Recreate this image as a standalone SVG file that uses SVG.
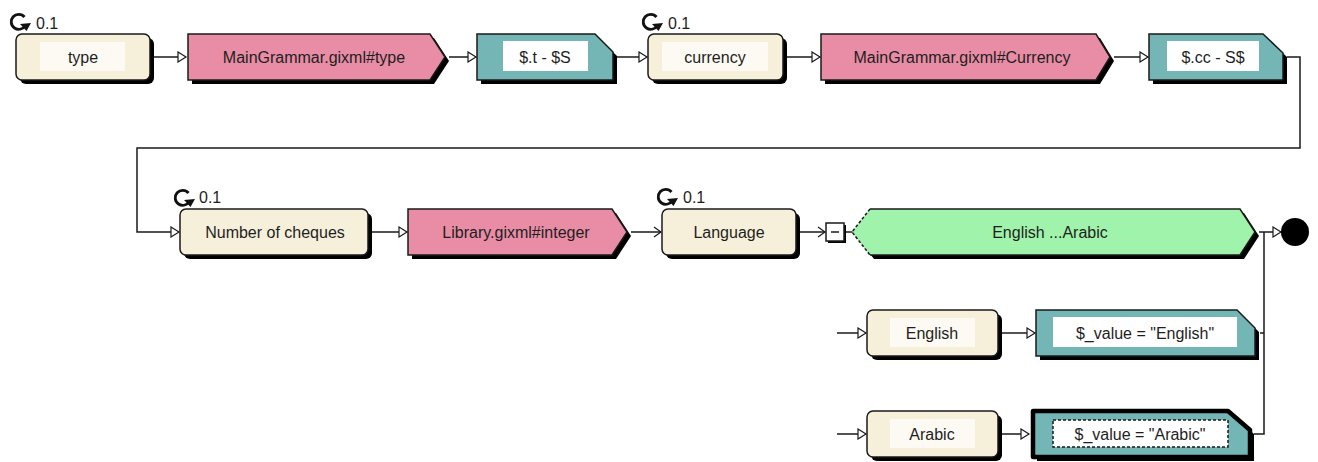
<svg xmlns="http://www.w3.org/2000/svg" xmlns:xlink="http://www.w3.org/1999/xlink" width="1318" height="462" viewBox="0 0 1318 462">
  <style>
    .bg { fill: #ffffff; }
    .shadow { fill: #000000; }
    .cream { fill: #F6F0DB; stroke: #1a1a1a; stroke-width: 1.5; }
    .pink { fill: #E98CA5; stroke: #1a1a1a; stroke-width: 1.5; }
    .teal { fill: #74B6B5; stroke: #1a1a1a; stroke-width: 1.5; }
    .teal-sel { fill: #74B6B5; stroke: #000000; stroke-width: 4.5; stroke-linejoin: round; }
    .green { fill: #A0F3AA; }
    .edge { fill: none; stroke: #1a1a1a; stroke-width: 1.5; }
    .inner { fill: #FCFAF2; }
    .innerw { fill: #FFFFFF; }
    .focus { fill: none; stroke: #1a1a1a; stroke-width: 1.5; stroke-dasharray: 3 2; }
    .lbl { font-family: "Liberation Sans", Arial, sans-serif; font-size: 16px; fill: #1e1e1e; text-anchor: middle; dominant-baseline: central; }
    .card { font-family: "Liberation Sans", Arial, sans-serif; font-size: 16px; fill: #1e1e1e; }
    .wire { fill: none; stroke: #1a1a1a; stroke-width: 1.5; }
  </style>
  <defs>
    <marker id="tri" markerUnits="userSpaceOnUse" markerWidth="12" markerHeight="12" refX="9" refY="6" orient="auto">
      <path d="M1,1 L9,6 L1,11 z" fill="#ffffff" stroke="#1a1a1a" stroke-width="1.2"/>
    </marker>
    <marker id="chev" markerUnits="userSpaceOnUse" markerWidth="12" markerHeight="12" refX="9" refY="6" orient="auto">
      <path d="M2,1 L9,6 L2,11" fill="none" stroke="#1a1a1a" stroke-width="1.2"/>
    </marker>
    <!-- repeat (0..1) loop glyph, centred on its ring -->
    <g id="loop">
      <path d="M5.5,-5 A7.5,7.5 0 1 0 6.5,3" fill="none" stroke="#111" stroke-width="2.8"/>
      <path d="M1,2 L12,1 L7.5,9 z" fill="#111"/>
    </g>
  </defs>

  <rect class="bg" x="0" y="0" width="1318" height="462"/>

  <!-- connectors -->
  <g id="connectors">
    <line class="wire" x1="154" y1="57" x2="186" y2="57" marker-end="url(#tri)"/>
    <line class="wire" x1="449" y1="57" x2="476" y2="57" marker-end="url(#tri)"/>
    <line class="wire" x1="617" y1="57" x2="647" y2="57" marker-end="url(#tri)"/>
    <line class="wire" x1="787" y1="57" x2="820" y2="57" marker-end="url(#tri)"/>
    <line class="wire" x1="1114" y1="57" x2="1148" y2="57" marker-end="url(#tri)"/>
    <polyline class="wire" points="1287,57 1300,57 1300,148 137,148 137,232 179,232" marker-end="url(#tri)"/>
    <line class="wire" x1="372" y1="232" x2="407" y2="232" marker-end="url(#tri)"/>
    <line class="wire" x1="631" y1="232" x2="661" y2="232" marker-end="url(#chev)"/>
    <line class="wire" x1="800" y1="232" x2="825" y2="232" marker-end="url(#chev)"/>
    <line class="wire" x1="846" y1="232" x2="853" y2="232"/>
    <line class="wire" x1="1259" y1="232" x2="1281" y2="232" marker-end="url(#tri)"/>
    <polyline class="wire" points="1264,232 1264,434 1254,434"/>
    <line class="wire" x1="1260" y1="333" x2="1264" y2="333"/>
    <line class="wire" x1="837" y1="333" x2="866" y2="333" marker-end="url(#tri)"/>
    <line class="wire" x1="1002" y1="333" x2="1035" y2="333" marker-end="url(#tri)"/>
    <line class="wire" x1="837" y1="434" x2="866" y2="434" marker-end="url(#tri)"/>
    <line class="wire" x1="1002" y1="434" x2="1029" y2="434" marker-end="url(#tri)"/>
  </g>

  <!-- row 1 -->
  <g id="node-type">
    <rect class="shadow" x="20" y="38" width="134" height="46" rx="6"/>
    <rect class="cream" x="16" y="34" width="134" height="46" rx="6"/>
    <rect class="inner" x="40" y="42" width="85" height="29"/>
    <text class="lbl" x="83" y="57">type</text>
    <use xlink:href="#loop" x="19" y="22"/>
    <text class="card" x="36" y="29">0.1</text>
  </g>
  <g id="node-grammar-type">
    <polygon class="shadow" points="192,38 434,38 449,61 434,84 192,84"/>
    <polygon class="pink" points="188,34 430,34 445,57 430,80 188,80"/>
    <text class="lbl" x="314" y="57">MainGrammar.gixml#type</text>
  </g>
  <g id="node-tag-t">
    <polygon class="shadow" points="481,38 599,38 617,56 617,84 481,84"/>
    <polygon class="teal" points="477,34 595,34 613,52 613,80 477,80"/>
    <rect class="innerw" x="503" y="41" width="85" height="30"/>
    <text class="lbl" x="545" y="57">$.t - $S</text>
  </g>
  <g id="node-currency">
    <rect class="shadow" x="652" y="38" width="135" height="46" rx="6"/>
    <rect class="cream" x="648" y="34" width="135" height="46" rx="6"/>
    <rect class="inner" x="662" y="42" width="106" height="29"/>
    <text class="lbl" x="715" y="57">currency</text>
    <use xlink:href="#loop" x="651" y="22"/>
    <text class="card" x="668" y="29">0.1</text>
  </g>
  <g id="node-grammar-currency">
    <polygon class="shadow" points="825,38 1100,38 1114,61 1100,84 825,84"/>
    <polygon class="pink" points="821,34 1096,34 1110,57 1096,80 821,80"/>
    <text class="lbl" x="962" y="57">MainGrammar.gixml#Currency</text>
  </g>
  <g id="node-tag-cc">
    <polygon class="shadow" points="1153,38 1267,38 1287,57 1287,84 1153,84"/>
    <polygon class="teal" points="1149,34 1263,34 1283,53 1283,80 1149,80"/>
    <rect class="innerw" x="1167" y="41" width="92" height="30"/>
    <text class="lbl" x="1213" y="57">$.cc - S$</text>
  </g>

  <!-- row 2 -->
  <g id="node-cheques">
    <rect class="shadow" x="184" y="213" width="188" height="46" rx="6"/>
    <rect class="cream" x="180" y="209" width="188" height="46" rx="6"/>
    <text class="lbl" x="275" y="232">Number of cheques</text>
    <use xlink:href="#loop" x="183" y="198"/>
    <text class="card" x="199" y="203">0.1</text>
  </g>
  <g id="node-integer">
    <polygon class="shadow" points="412,213 616,213 631,236 616,259 412,259"/>
    <polygon class="pink" points="408,209 612,209 627,232 612,255 408,255"/>
    <text class="lbl" x="516" y="232">Library.gixml#integer</text>
  </g>
  <g id="node-language">
    <rect class="shadow" x="666" y="213" width="134" height="46" rx="6"/>
    <rect class="cream" x="662" y="209" width="134" height="46" rx="6"/>
    <text class="lbl" x="729" y="232">Language</text>
    <use xlink:href="#loop" x="666" y="197"/>
    <text class="card" x="683" y="203">0.1</text>
  </g>
  <g id="node-collapse">
    <rect class="shadow" x="828" y="225" width="18" height="18"/>
    <rect x="826" y="223" width="18" height="18" fill="#ffffff" stroke="#1a1a1a" stroke-width="1.5"/>
    <line x1="831" y1="232" x2="839" y2="232" stroke="#1a1a1a" stroke-width="1.5"/>
  </g>
  <g id="node-choice">
    <polygon class="shadow" points="856,236 874,213 1244,213 1259,236 1244,259 874,259"/>
    <polygon class="green" points="852,232 870,209 1240,209 1255,232 1240,255 870,255"/>
    <path class="edge" d="M870,209 L1240,209 L1255,232 L1240,255 L870,255"/>
    <path class="edge" d="M870,209 L852,232 L870,255" stroke-dasharray="3 2"/>
    <text class="lbl" x="1050" y="232">English ...Arabic</text>
  </g>
  <g id="node-end">
    <circle cx="1295" cy="232" r="14" fill="#000000"/>
  </g>

  <!-- row 3 -->
  <g id="node-english">
    <rect class="shadow" x="871" y="314" width="131" height="46" rx="6"/>
    <rect class="cream" x="867" y="310" width="131" height="46" rx="6"/>
    <rect class="inner" x="890" y="318" width="85" height="29"/>
    <text class="lbl" x="932" y="333">English</text>
  </g>
  <g id="node-value-english">
    <polygon class="shadow" points="1040,314 1241,314 1259,332 1259,360 1040,360"/>
    <polygon class="teal" points="1036,310 1237,310 1255,328 1255,356 1036,356"/>
    <rect class="innerw" x="1053" y="317" width="184" height="30"/>
    <text class="lbl" x="1145" y="333">$_value = "English"</text>
  </g>

  <!-- row 4 -->
  <g id="node-arabic">
    <rect class="shadow" x="871" y="415" width="131" height="46" rx="6"/>
    <rect class="cream" x="867" y="411" width="131" height="46" rx="6"/>
    <rect class="inner" x="890" y="419" width="85" height="29"/>
    <text class="lbl" x="932" y="434">Arabic</text>
  </g>
  <g id="node-value-arabic">
    <polygon class="shadow" points="1037,415 1232,415 1254,434 1254,461 1037,461"/>
    <polygon class="teal-sel" points="1033,411 1228,411 1250,430 1250,457 1033,457"/>
    <rect class="innerw" x="1053" y="420" width="175" height="27"/>
    <rect class="focus" x="1053" y="420" width="175" height="27"/>
    <text class="lbl" x="1140" y="434">$_value = "Arabic"</text>
  </g>
</svg>
